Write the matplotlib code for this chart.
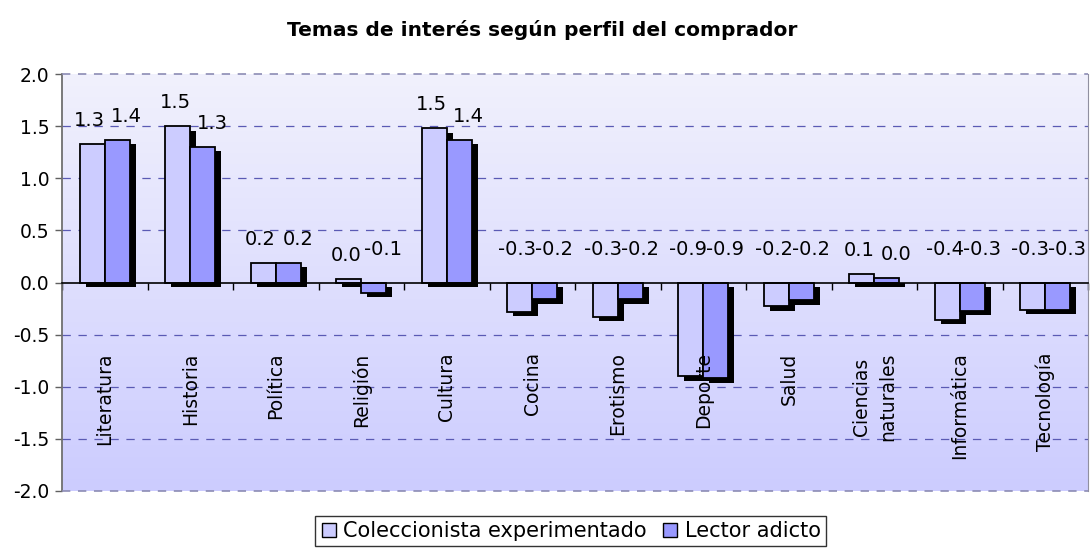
import numpy as np
import matplotlib
matplotlib.use("Agg")
import matplotlib.pyplot as plt
import matplotlib.patheffects as pe
from matplotlib.lines import Line2D

plt.rcParams['font.family'] = ['DejaVu Sans']
plt.rcParams['lines.scale_dashes'] = False

categories = ["Literatura", "Historia", "Política", "Religión", "Cultura", "Cocina",
              "Erotismo", "Deporte", "Salud", "Ciencias\nnaturales", "Informática", "Tecnología"]
coleccionista = [1.33, 1.50, 0.19, 0.03, 1.48, -0.28, -0.33, -0.90, -0.23, 0.08, -0.36, -0.26]
lector = [1.37, 1.30, 0.19, -0.10, 1.37, -0.16, -0.16, -0.92, -0.17, 0.04, -0.27, -0.26]
series_names = ["Coleccionista experimentado", "Lector adicto"]
yticks = [-2.0, -1.5, -1.0, -0.5, 0.0, 0.5, 1.0, 1.5, 2.0]
title = "Temas de interés según perfil del comprador"

fig = plt.figure(figsize=(10.91, 5.54), dpi=100)
ax = fig.add_axes([62/1091, 1-491/554, (1088-62)/1091, (491-74)/554])

x = np.arange(len(categories))
w = 0.29
ax.set_xlim(-0.5, len(categories) - 0.5)
ax.set_ylim(-2.0, 2.0)

# gradient background
grad = np.linspace(0, 1, 256).reshape(-1, 1)
top = np.array([0.945, 0.945, 0.99])
bot = np.array([0.80, 0.80, 1.0])
img = top[None, None, :] * (1 - grad[:, :, None]) + bot[None, None, :] * grad[:, :, None]
ax.imshow(img, extent=[-0.5, len(categories) - 0.5, -2.0, 2.0], aspect='auto', zorder=0,
          origin='upper')

# gridlines
for yv in yticks:
    if yv in (-2.0, 2.0):
        ax.axhline(yv, color='#8c8cb4', lw=1.2, dashes=(6, 5.5), zorder=4, clip_on=False)
    elif yv != 0:
        ax.axhline(yv, color='#5a5ab4', lw=0.9, dashes=(6, 5.5), zorder=1)

shadow = [pe.SimplePatchShadow(offset=(4.3, -3.2), shadow_rgbFace='black', alpha=1.0), pe.Normal()]
colors = ['#ccccff', '#9999ff']
vals = [coleccionista, lector]
offs = [-w / 2, w / 2]
lab_dx = [-2, 7]
for s in range(2):
    bars = ax.bar(x + offs[s], vals[s], width=w, color=colors[s], edgecolor='black',
                  linewidth=1.3, zorder=3, label=series_names[s])
    for b in bars:
        b.set_path_effects(shadow)
    for xi, v in zip(x + offs[s], vals[s]):
        if v >= 0:
            ax.annotate(f"{v:.1f}", (xi, v), xytext=(lab_dx[s], 17), textcoords='offset points',
                        ha='center', va='center', fontsize=14, zorder=5)
        else:
            ax.annotate(f"{v:.1f}", (xi, 0), xytext=(lab_dx[s], 24), textcoords='offset points',
                        ha='center', va='center', fontsize=14, zorder=5)

# category labels inside plot
for xi, c in zip(x, categories):
    ax.text(xi, -0.67, c, rotation=90, ha='center', va='top', fontsize=13.5, zorder=6,
            multialignment='center', linespacing=1.5)

# zero axis with ticks at category boundaries
ax.spines['bottom'].set_position(('data', 0))
ax.spines['bottom'].set_color('black')
ax.spines['bottom'].set_linewidth(1.2)
ax.spines['bottom'].set_zorder(4)
ax.set_xticks(np.arange(len(categories) + 1) - 0.5)
ax.set_xticklabels([])
ax.tick_params(axis='x', direction='out', length=5, width=1, color='black')
ax.spines['top'].set_visible(False)
ax.spines['right'].set_color('#9090a0')
ax.spines['left'].set_color('#707070')
ax.spines['left'].set_linewidth(1.3)

ax.set_yticks(yticks)
ax.set_yticklabels([f"{t:.1f}" for t in yticks], fontsize=13.5)
ax.tick_params(axis='y', direction='out', length=5, width=1, color='#606060', pad=4)

fig.text(0.497, 0.946, title, ha='center', va='center', fontsize=14.5, fontweight='bold')

handles = [Line2D([], [], marker='s', linestyle='none', markersize=10, markerfacecolor=colors[i],
                  markeredgecolor='black', markeredgewidth=1.0) for i in range(2)]
leg = fig.legend(handles, series_names, loc='center', bbox_to_anchor=(0.523, 0.041),
                 ncol=2, fontsize=15, frameon=True, fancybox=False, shadow=False,
                 handlelength=0.8, handletextpad=0.3, columnspacing=0.7, borderpad=0.25,
                 borderaxespad=0)
leg.get_frame().set_edgecolor('black')
leg.get_frame().set_linewidth(1.0)

fig.savefig("out.png", dpi=100, facecolor='white')
